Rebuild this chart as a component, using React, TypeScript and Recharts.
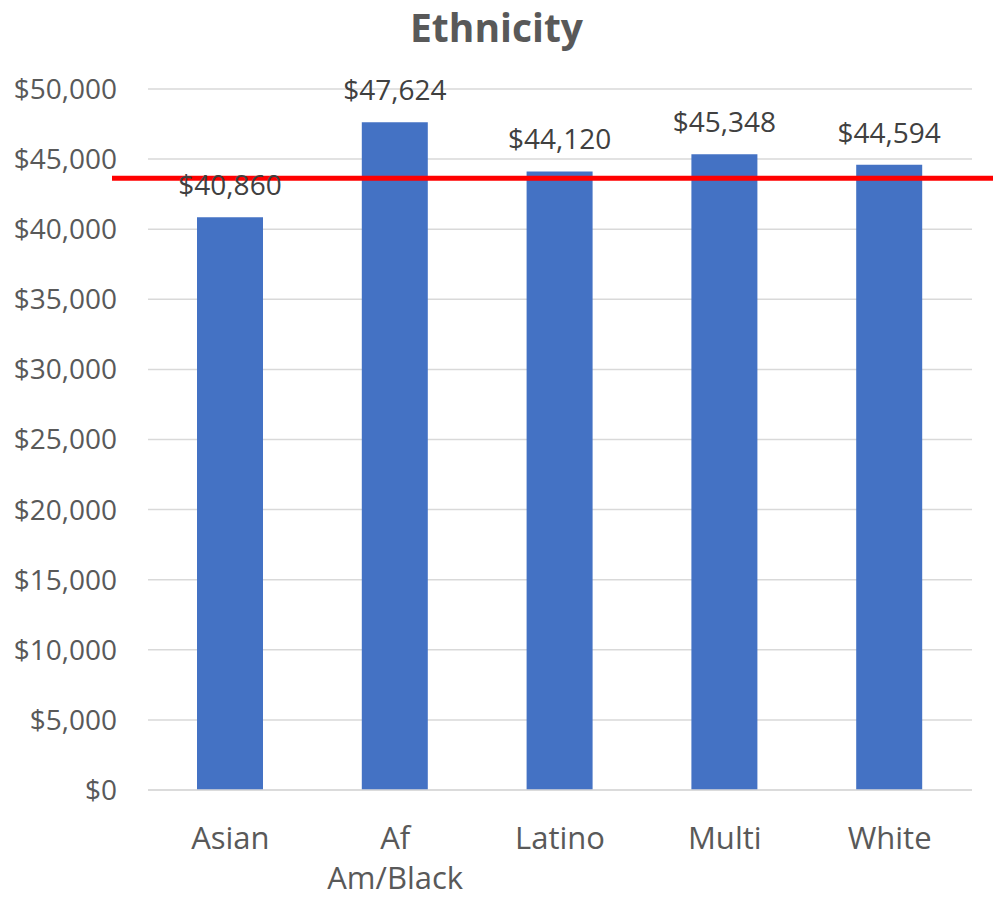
import React from 'react';
import { BarChart, Bar, XAxis, YAxis, CartesianGrid, LabelList, ReferenceLine } from 'recharts';

// values
const categories = ['Asian', 'Af Am/Black', 'Latino', 'Multi', 'White'];
const salaries = [40860, 47624, 44120, 45348, 44594];
const yTicks = [0, 5000, 10000, 15000, 20000, 25000, 30000, 35000, 40000, 45000, 50000];
const overallAverage = 43640;

const data = categories.map((name, i) => ({ name, value: salaries[i] }));

const W = 993;
const H = 900;
const FONT = '"Open Sans", sans-serif';
const money = (v: number) => '$' + v.toLocaleString('en-US');

const CategoryTick = (props: any) => {
  const { x, y, payload } = props;
  const lines = String(payload.value).split(' ');
  return (
    <text x={x} y={y} textAnchor="middle" fill="#595959" fontSize={31} fontFamily={FONT}>
      {lines.map((l, i) => (
        <tspan key={i} x={x} y={y + 57 + i * 40}>{l}</tspan>
      ))}
    </text>
  );
};

// red average line runs a little past the plot on both sides
const AvgLine = (p: any) => (
  <line x1={p.x1 - 36} x2={W} y1={p.y1} y2={p.y2} stroke="#FF0000" strokeWidth={5} />
);

export default function App() {
  return (
    <div style={{ position: 'absolute', left: 0, top: 0, width: W, height: H, background: '#fff' }}>
      <div style={{
        position: 'absolute', top: 0, left: 0, width: W, textAlign: 'center',
        fontFamily: FONT, fontWeight: 700, fontSize: 39, color: '#595959', lineHeight: '54px'
      }}>
        Ethnicity
      </div>
      <BarChart width={W} height={H} data={data} margin={{ top: 89, right: 21, bottom: 0, left: 0 }}>
        <CartesianGrid vertical={false} stroke="#d9d9d9" strokeWidth={1.5} />
        <XAxis
          dataKey="name"
          height={110}
          tickLine={false}
          axisLine={{ stroke: '#d9d9d9', strokeWidth: 1.5 }}
          tickSize={0}
          tick={<CategoryTick />}
          interval={0}
        />
        <YAxis
          width={148}
          domain={[0, 50000]}
          ticks={yTicks}
          tickFormatter={money}
          axisLine={false}
          tickLine={false}
          tickSize={0}
          tickMargin={31}
          tick={{ fill: '#595959', fontSize: 28, fontFamily: FONT }}
        />
        <Bar dataKey="value" fill="#4472C4" barSize={66} isAnimationActive={false}>
          <LabelList
            dataKey="value"
            position="top"
            offset={22}
            formatter={(v: any) => money(Number(v))}
            fill="#404040"
            fontSize={28}
            fontFamily={FONT}
          />
        </Bar>
        <ReferenceLine y={overallAverage} shape={AvgLine} />
      </BarChart>
    </div>
  );
}
